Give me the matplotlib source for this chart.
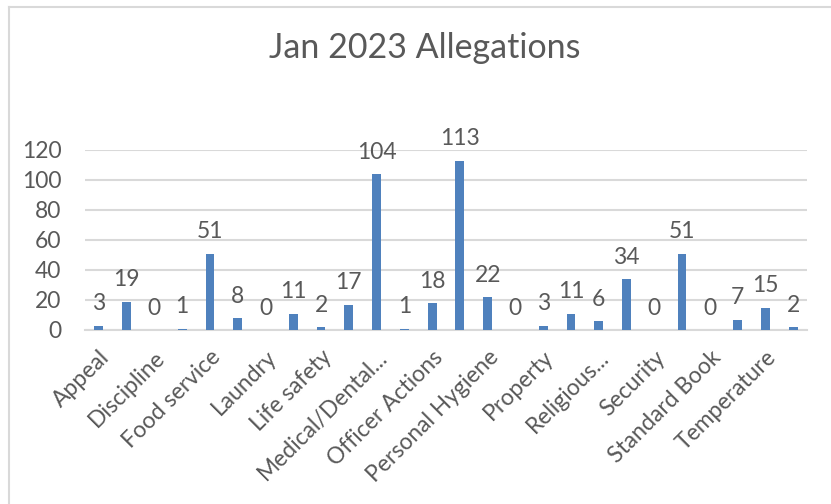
import matplotlib
matplotlib.use('Agg')
import matplotlib.pyplot as plt
from matplotlib.lines import Line2D

# Values for every category (Excel only shows every second label)
VALUES = [3, 19, 0, 1, 51, 8, 0, 11, 2, 17, 104, 1, 18, 113, 22, 0,
          3, 11, 6, 34, 0, 51, 0, 7, 15, 2]
SHOWN_LABELS = ['Appeal', 'Discipline', 'Food service', 'Laundry', 'Life safety',
                'Medical/Dental...', 'Officer Actions', 'Personal Hygiene',
                'Property', 'Religious...', 'Security', 'Standard Book',
                'Temperature']
Y_TICKS = [0, 20, 40, 60, 80, 100, 120]

TITLE = 'Jan 2023 Allegations'
BAR_COLOR = '#4F81BD'
TEXT_COLOR = '#595959'
GRID_COLOR = '#D9D9D9'
FS = 16.5

plt.rcParams['font.family'] = ['Lato', 'DejaVu Sans']

fig = plt.figure(figsize=(8.31, 5.04), dpi=100)
ax = fig.add_axes([85 / 831, 1 - 330 / 504, 722 / 831, 180 / 504])

x = list(range(len(VALUES)))
ax.bar(x, VALUES, width=0.32, color=BAR_COLOR, zorder=3)
for xi, v in zip(x, VALUES):
    ax.annotate(str(v), (xi, v), xytext=(0, 8), textcoords='offset points',
                ha='center', va='bottom', fontsize=FS, color=TEXT_COLOR)

ax.set_xlim(-0.5, len(VALUES) - 0.5)
ax.set_ylim(0, 120)
ax.set_yticks(Y_TICKS)
ax.set_yticklabels([str(t) for t in Y_TICKS], fontsize=FS, color=TEXT_COLOR)
ax.set_xticks(x[::2])
ax.set_xticklabels(SHOWN_LABELS, rotation=45, ha='right', va='top',
                   rotation_mode='anchor', fontsize=FS, color=TEXT_COLOR)
ax.tick_params(axis='both', length=0)
ax.tick_params(axis='y', pad=17)
ax.tick_params(axis='x', pad=12)

ax.grid(axis='y', color=GRID_COLOR, linewidth=1.5, zorder=0)
for side in ['top', 'right', 'left']:
    ax.spines[side].set_visible(False)
ax.spines['bottom'].set_color(GRID_COLOR)
ax.spines['bottom'].set_linewidth(1.5)

fig.text(425 / 831, 1 - 48 / 504, TITLE, ha='center', va='center',
         fontsize=24.5, color=TEXT_COLOR)

# chart area border (top and left edges visible in the crop)
fig.add_artist(Line2D([9 / 831, 9 / 831], [0, 1 - 6.5 / 504],
                      transform=fig.transFigure, color=GRID_COLOR, linewidth=1.5))
fig.add_artist(Line2D([9 / 831, 1], [1 - 6.5 / 504, 1 - 6.5 / 504],
                      transform=fig.transFigure, color=GRID_COLOR, linewidth=1.5))

fig.savefig('out.png', dpi=100)
